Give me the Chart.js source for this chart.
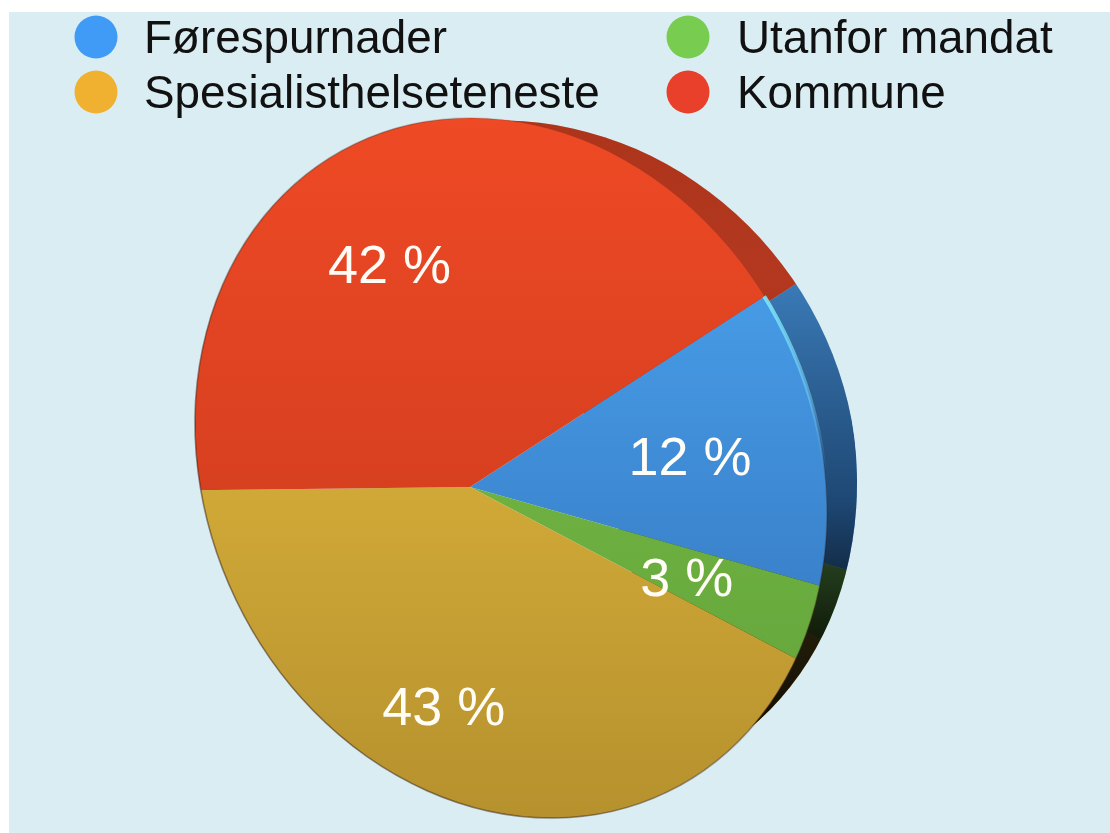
<!DOCTYPE html>
<html><head><meta charset="utf-8">
<style>
html,body{margin:0;padding:0;background:#fff;overflow:hidden}
#panel{position:absolute;left:9px;top:12px;width:1101px;height:821px;background:#DAEDF3}
canvas{position:absolute;left:0;top:0;filter:blur(0.6px)}
</style>
<script src="https://cdn.jsdelivr.net/npm/chart.js@4/dist/chart.umd.min.js"></script>
</head><body>
<div id="panel"></div>
<canvas id="c" width="1110" height="833"></canvas>
<script>
const categories = ['Førespurnader','Utanfor mandat','Spesialisthelseteneste','Kommune'];
const values = [12,3,43,42];
const faceTop = ['#53B3FF','#82C84E','#F6CA46','#F64C27'];
const faceBottom = ['#2A61A9','#5A9A34','#AA8729','#B83418'];
const legendColors = ['#3F9BF5','#78CC50','#F0B030','#E8402A'];
const legendSlots = [[0,0],[1,0],[0,1],[1,1]];
const labelNudge = [[0,8],[7,10],[20,-27],[-23,28]];

const PIE = {x:470,y:487,sx:1.2,sy:1.38,rot:60.6};
const FACE = {x:511,y:468,a:359.7,b:305,r:64.3};
const RIM = {x:523,y:464,a:351,b:327,r:55.4,dx:34,dy:-14};
const RIM_LIMIT = {x:541,y:438,a:359.7,b:305,r:64.3};
const rad = d=>d*Math.PI/180;

function ell(ctx,e){ctx.beginPath();ctx.ellipse(e.x,e.y,e.a,e.b,rad(e.r),0,Math.PI*2);}
function place(ctx,arc,dx,dy){
  ctx.translate(PIE.x+dx,PIE.y+dy);ctx.scale(PIE.sx,PIE.sy);ctx.translate(-arc.x,-arc.y);
}
const pie3d = {
  id:'pie3d',
  beforeDatasetsDraw(chart){
    const ctx=chart.ctx, arcs=chart.getDatasetMeta(0).data;
    ctx.save();
    ctx.beginPath();ctx.moveTo(490,100);ctx.lineTo(1000,100);ctx.lineTo(1000,800);ctx.lineTo(700,800);ctx.closePath();ctx.clip();
    ell(ctx,RIM);ctx.clip();
    ell(ctx,RIM_LIMIT);ctx.clip();
    ctx.save();place(ctx,arcs[0],RIM.dx,RIM.dy);
    arcs.forEach(a=>a.draw(ctx));
    ctx.restore();
    const g=ctx.createLinearGradient(0,120,0,720);
    g.addColorStop(0,'rgba(20,5,0,.3)');g.addColorStop(.27,'rgba(10,10,20,.22)');
    g.addColorStop(.63,'rgba(0,10,25,.5)');g.addColorStop(.85,'rgba(0,0,0,.82)');g.addColorStop(1,'rgba(0,0,0,.9)');
    ctx.fillStyle=g;ctx.fillRect(0,0,1110,833);
    ctx.restore();
    ctx.save();ell(ctx,FACE);ctx.clip();place(ctx,arcs[0],0,0);
  },
  afterDatasetsDraw(chart){
    const ctx=chart.ctx, arcs=chart.getDatasetMeta(0).data;
    ctx.restore();
    // dark outer edge
    const eg=ctx.createLinearGradient(300,650,700,250);
    eg.addColorStop(0,'rgba(50,25,10,.5)');eg.addColorStop(.75,'rgba(50,25,10,.35)');eg.addColorStop(1,'rgba(50,25,10,0)');
    ctx.save();ell(ctx,FACE);ctx.strokeStyle=eg;ctx.lineWidth=1.6;ctx.stroke();ctx.restore();
    // light highlight along the blue slice
    const b=arcs[0];
    ctx.save();ctx.save();place(ctx,b,0,0);
    ctx.beginPath();ctx.moveTo(b.x,b.y);ctx.arc(b.x,b.y,b.outerRadius*1.2,b.startAngle,b.endAngle);ctx.closePath();ctx.restore();ctx.clip();
    const hg=ctx.createLinearGradient(0,290,0,470);
    hg.addColorStop(0,'rgba(130,235,250,.9)');hg.addColorStop(.6,'rgba(120,215,250,.5)');hg.addColorStop(1,'rgba(120,200,250,0)');
    ell(ctx,FACE);ctx.strokeStyle=hg;ctx.lineWidth=4;ctx.stroke();ctx.restore();
    // value labels
    ctx.save();ctx.font='54px "Liberation Sans"';ctx.fillStyle='#FFFDF6';ctx.textAlign='center';ctx.textBaseline='middle';
    arcs.forEach((a,i)=>{
      const m=(a.startAngle+a.endAngle)/2, r=185;
      ctx.fillText(values[i]+' %',PIE.x+PIE.sx*r*Math.cos(m)+labelNudge[i][0],PIE.y+PIE.sy*r*Math.sin(m)+labelNudge[i][1]);
    });
    ctx.restore();
    // legend
    ctx.save();ctx.font='45.8px "Liberation Sans"';ctx.textAlign='left';ctx.textBaseline='alphabetic';
    categories.forEach((t,i)=>{
      const [col,row]=legendSlots[i];
      const dx=96+col*592, ty=37+row*55;
      ctx.beginPath();ctx.arc(dx,ty,21.5,0,Math.PI*2);ctx.fillStyle=legendColors[i];ctx.fill();
      ctx.fillStyle='#111';ctx.fillText(t,144+col*593,ty+16);
    });
    ctx.restore();
  }
};
new Chart(document.getElementById('c'),{
  type:'pie',
  data:{labels:categories,datasets:[{data:values,borderWidth:0,clip:false,
    backgroundColor(c){
      const i=c.dataIndex;if(i===undefined)return '#888';
      const g=c.chart.ctx.createLinearGradient(0,141,0,833);
      g.addColorStop(0,faceTop[i]);g.addColorStop(1,faceBottom[i]);return g;
    }}]},
  options:{responsive:false,animation:false,rotation:PIE.rot,
    layout:{padding:{left:124,right:294,top:141,bottom:0}},
    events:[],
    plugins:{legend:{display:false},tooltip:{enabled:false},title:{display:false}}},
  plugins:[pie3d]
});
</script>
</body></html>
